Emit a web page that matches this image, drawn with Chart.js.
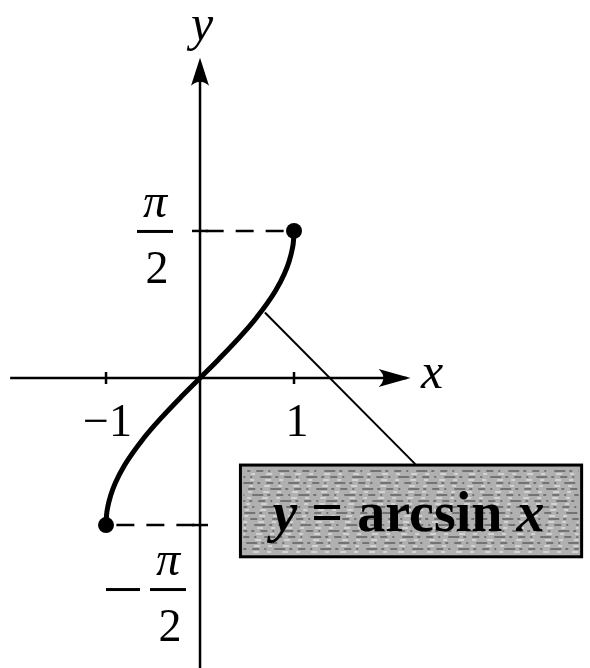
<!DOCTYPE html>
<html lang="en">
<head>
  <meta charset="UTF-8">
  <title>y = arcsin x</title>
  <style>
    body { margin: 0; background: white; }
    canvas { display: block; }
  </style>
</head>
<body>
  <canvas id="plot" width="590" height="668"></canvas>

  <script src="https://cdn.jsdelivr.net/npm/chart.js"></script>
  <script>
    // points
    const xs = [-1, -0.995, -0.98, -0.95, -0.9, -0.8, -0.6, -0.4, -0.2, 0, 0.2, 0.4, 0.6, 0.8, 0.9, 0.95, 0.98, 0.995, 1];
    const ys = [-1.571, -1.471, -1.371, -1.253, -1.12, -0.927, -0.644, -0.412, -0.201, 0, 0.201, 0.412, 0.644, 0.927, 1.12, 1.253, 1.371, 1.471, 1.571];
    const xTicks = [-1, 1];
    const xTickLabels = ['\u22121', '1'];
    const yTicks = [Math.PI / 2, -Math.PI / 2];
    const labelText = ['y', ' = ', 'arcsin', ' x'];

    const curve = xs.map((x, i) => ({ x: x, y: ys[i] }));
    const half = Math.PI / 2;

    const SERIF = '"Liberation Serif", "DejaVu Serif", serif';

    function arrow(ctx, tx, ty, dx, dy, len, w) {
      // concave arrow head pointing along (dx,dy)
      const px = -dy, py = dx;
      const bx = tx - dx * len, by = ty - dy * len;
      ctx.beginPath();
      ctx.moveTo(tx, ty);
      ctx.lineTo(bx + px * w, by + py * w);
      ctx.quadraticCurveTo(tx - dx * len * 0.7, ty - dy * len * 0.7, bx - px * w, by - py * w);
      ctx.closePath();
      ctx.fill();
    }

    function fraction(ctx, cx, bar, neg) {
      ctx.textAlign = 'center';
      ctx.textBaseline = 'alphabetic';
      ctx.font = 'italic 48px ' + SERIF;
      ctx.fillText('\u03c0', cx, bar - 14);
      ctx.fillRect(cx - 18, bar - 1, 36, 3);
      ctx.font = '46px ' + SERIF;
      ctx.fillText('2', cx + 2, bar + 52);
      if (neg) ctx.fillRect(cx - 62, bar - 1, 34, 3);
    }

    const axesPlugin = {
      id: 'axes',
      beforeDatasetsDraw(chart) {
        const ctx = chart.ctx;
        const sx = chart.scales.x, sy = chart.scales.y;
        const ox = sx.getPixelForValue(0), oy = sy.getPixelForValue(0);
        ctx.save();
        ctx.strokeStyle = '#000';
        ctx.fillStyle = '#000';
        ctx.lineWidth = 2.5;
        // x axis
        ctx.beginPath();
        ctx.moveTo(sx.getPixelForValue(-2.02), oy);
        ctx.lineTo(sx.getPixelForValue(2.2), oy);
        ctx.stroke();
        arrow(ctx, sx.getPixelForValue(2.24), oy, 1, 0, 32, 9);
        // y axis
        ctx.beginPath();
        ctx.moveTo(ox, chart.height);
        ctx.lineTo(ox, sy.getPixelForValue(3.3));
        ctx.stroke();
        arrow(ctx, ox, sy.getPixelForValue(3.42), 0, -1, 28, 9);
        // ticks
        xTicks.forEach(v => {
          const p = sx.getPixelForValue(v);
          ctx.beginPath();
          ctx.moveTo(p, oy - 6);
          ctx.lineTo(p, oy + 6);
          ctx.stroke();
        });
        yTicks.forEach(v => {
          const p = sy.getPixelForValue(v);
          ctx.beginPath();
          ctx.moveTo(ox - 8, p);
          ctx.lineTo(ox + 8, p);
          ctx.stroke();
        });
        ctx.restore();
      },
      afterDatasetsDraw(chart) {
        const ctx = chart.ctx;
        const sx = chart.scales.x, sy = chart.scales.y;
        const ox = sx.getPixelForValue(0), oy = sy.getPixelForValue(0);
        ctx.save();
        ctx.fillStyle = '#000';
        ctx.strokeStyle = '#000';

        // axis names
        ctx.font = 'italic 50px ' + SERIF;
        ctx.textAlign = 'center';
        ctx.textBaseline = 'alphabetic';
        ctx.fillText('y', ox + 2, 40);
        ctx.fillText('x', sx.getPixelForValue(2.47), oy + 10);

        // x tick labels
        ctx.font = '46px ' + SERIF;
        ctx.textAlign = 'right';
        ctx.fillText(xTickLabels[0], sx.getPixelForValue(xTicks[0]) + 26, oy + 58);
        ctx.textAlign = 'center';
        ctx.fillText(xTickLabels[1], sx.getPixelForValue(xTicks[1]) + 3, oy + 58);

        // pi/2 labels
        fraction(ctx, 155, sy.getPixelForValue(yTicks[0]), false);
        fraction(ctx, 168, sy.getPixelForValue(yTicks[1]) + 64, true);

        // leader line
        ctx.lineWidth = 2;
        ctx.beginPath();
        ctx.moveTo(sx.getPixelForValue(0.69), sy.getPixelForValue(0.7));
        ctx.lineTo(sx.getPixelForValue(2.29), sy.getPixelForValue(-0.92));
        ctx.stroke();

        // label box
        const bx0 = sx.getPixelForValue(0.43), bx1 = sx.getPixelForValue(4.06);
        const by0 = sy.getPixelForValue(-0.93), by1 = sy.getPixelForValue(-1.91);
        ctx.fillStyle = '#b0b0b0';
        ctx.fillRect(bx0, by0, bx1 - bx0, by1 - by0);
        // streaky print texture
        ctx.strokeStyle = 'rgba(30,30,30,0.55)';
        ctx.lineWidth = 1.5;
        for (let yy = by0 + 6; yy < by1 - 3; yy += 6) {
          ctx.setLineDash([7, 5, 2, 8, 11, 4, 3, 6]);
          ctx.lineDashOffset = yy * 3;
          ctx.beginPath();
          ctx.moveTo(bx0 + 3, yy);
          ctx.lineTo(bx1 - 3, yy);
          ctx.stroke();
        }
        ctx.strokeStyle = 'rgba(255,255,255,0.6)';
        for (let yy = by0 + 9; yy < by1 - 3; yy += 6) {
          ctx.setLineDash([4, 11, 6, 8]);
          ctx.lineDashOffset = yy * 5;
          ctx.beginPath();
          ctx.moveTo(bx0 + 3, yy);
          ctx.lineTo(bx1 - 3, yy);
          ctx.stroke();
        }
        ctx.setLineDash([]);
        ctx.strokeStyle = '#000';
        ctx.lineWidth = 3;
        ctx.strokeRect(bx0, by0, bx1 - bx0, by1 - by0);

        // label text
        ctx.fillStyle = '#000';
        ctx.textAlign = 'left';
        const fonts = ['italic bold 56px ', 'bold 56px ', 'bold 56px ', 'italic bold 56px '];
        let tx = bx0 + 32;
        const base = by0 + 66;
        labelText.forEach((t, i) => {
          ctx.font = fonts[i] + SERIF;
          ctx.fillText(t, tx, base);
          tx += ctx.measureText(t).width;
        });
        ctx.restore();
      }
    };

    new Chart(document.getElementById('plot'), {
      type: 'scatter',
      data: {
        datasets: [
          {
            data: curve,
            showLine: true,
            borderColor: '#000',
            backgroundColor: '#000',
            borderWidth: 5,
            cubicInterpolationMode: 'monotone',
            pointRadius: ctx => (ctx.dataIndex === 0 || ctx.dataIndex === curve.length - 1) ? 8 : 0,
            pointBorderWidth: 0
          },
          {
            data: [{ x: 0.06, y: half }, { x: 0.92, y: half }],
            showLine: true,
            borderColor: '#000',
            borderWidth: 2.5,
            borderDash: [18, 12],
            pointRadius: 0
          },
          {
            data: [{ x: -0.06, y: -half }, { x: -0.92, y: -half }],
            showLine: true,
            borderColor: '#000',
            borderWidth: 2.5,
            borderDash: [18, 12],
            pointRadius: 0
          }
        ]
      },
      options: {
        responsive: false,
        animation: false,
        layout: { padding: 0, autoPadding: false },
        plugins: { legend: { display: false }, tooltip: { enabled: false } },
        scales: {
          x: { type: 'linear', min: -2.128, max: 4.149, display: false },
          y: { type: 'linear', min: -3.098, max: 4.038, display: false }
        }
      },
      plugins: [axesPlugin]
    });
  </script>
</body>
</html>
